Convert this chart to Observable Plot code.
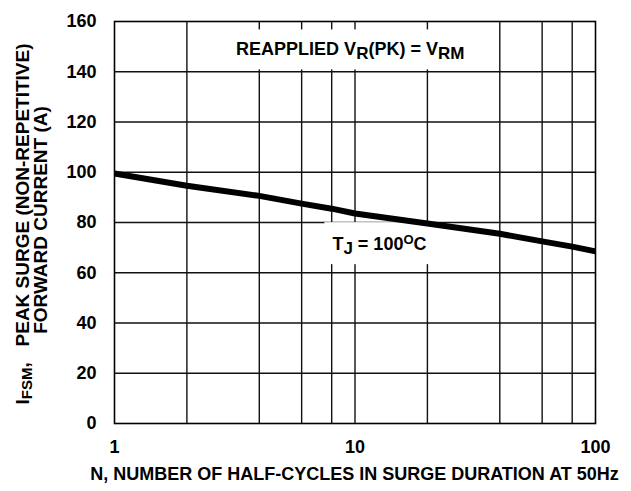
<!DOCTYPE html>
<html><head><meta charset="utf-8">
<script src="https://cdn.jsdelivr.net/npm/d3@7"></script>
<script src="https://cdn.jsdelivr.net/npm/@observablehq/plot@0.6"></script>
<style>
html,body{margin:0;padding:0;background:#fff;}
#chart svg{display:block;}
</style></head><body><div id="chart"></div>
<script>
// ---- data ----
const halfCycles   = [1, 2, 4, 6, 8, 10, 20, 40, 60, 80, 100];
const surgeCurrent = [99.5, 94.6, 90.6, 87.5, 85.5, 83.6, 79.6, 75.5, 72.5, 70.4, 68.5];
const xTicks = [1, 10, 100];
const xGrid  = [2, 4, 6, 8, 10, 20, 40, 60, 80];
const yTicks = [0, 20, 40, 60, 80, 100, 120, 140, 160];
const yGrid  = [20, 40, 60, 80, 100, 120, 140];
const annotationX = [9.6, 12.7];
const annotationY = [146.3, 68.8];
const annotationText = [
  [["REAPPLIED V", ""], ["R", "sub"], ["(PK) = V", ""], ["RM", "sub"]],
  [["T", ""], ["J", "sub"], [" = 100", ""], ["O", "sup"], ["C", ""]]
];
const xTitle = "N, NUMBER OF HALF-CYCLES IN SURGE DURATION AT 50Hz";
const yTitle1 = [["I", ""], ["FSM", "small"], [",   PEAK SURGE (NON-REPETITIVE)", ""]];
const yTitle2 = "FORWARD CURRENT (A)";

const data = halfCycles.map((n, i) => ({n, a: surgeCurrent[i]}));
const W = 631, H = 491, mL = 114, mR = 36, mT = 21, mB = 68;
const FONT = "'Liberation Sans', Arial, Helvetica, sans-serif";

const plot = Plot.plot({
  width: W, height: H,
  marginLeft: mL, marginRight: mR, marginTop: mT, marginBottom: mB,
  style: {fontFamily: FONT, fontSize: "18px", fontWeight: "bold", color: "#000", background: "#fff", overflow: "visible"},
  x: {type: "log", domain: [1, 100], ticks: xTicks, tickFormat: d => String(d), tickSize: 0, tickPadding: 17, label: null},
  y: {domain: [0, 160], ticks: yTicks, tickFormat: d => String(d), tickSize: 0, tickPadding: 18, label: null},
  marks: [
    Plot.ruleX(xGrid, {stroke: "#111", strokeWidth: 1.4}),
    Plot.ruleY(yGrid, {stroke: "#111", strokeWidth: 1.4}),
    Plot.frame({stroke: "#000", strokeWidth: 1.6}),
    Plot.line(data, {x: "n", y: "a", stroke: "#000", strokeWidth: 6, strokeLinecap: "butt"})
  ]
});
document.getElementById("chart").append(plot);

const sx = plot.scale("x"), sy = plot.scale("y");

function rich(text, parts, opts) {
  let shift = 0;
  parts.forEach(([s, kind]) => {
    let target = 0, size = null;
    if (kind === "sub") { target = opts.sub; size = opts.subSize; }
    else if (kind === "sup") { target = -opts.sup; size = opts.supSize; }
    else if (kind === "small") { target = opts.small; size = opts.smallSize; }
    const t = text.append("tspan").attr("dy", target - shift).text(s);
    if (size) t.attr("font-size", size);
    shift = target;
  });
}

const svg = d3.select(plot);
const lineG = plot.querySelector('g[aria-label="line"]');
const annG = svg.append("g").node();
plot.insertBefore(annG, lineG);
const ann = d3.select(annG)
  .attr("font-family", FONT).attr("font-size", 18).attr("font-weight", "bold").attr("fill", "#000");

annotationText.forEach((parts, i) => {
  const px = sx.apply(annotationX[i]), py = sy.apply(annotationY[i]);
  const g = ann.append("g");
  const t = g.append("text").attr("x", px).attr("y", py).attr("text-anchor", "middle")
    .style("white-space", "pre");
  rich(t, parts, {sub: 4, subSize: 17, sup: 6, supSize: 13});
  const b = t.node().getBBox();
  g.insert("rect", "text")
    .attr("x", b.x - 8).attr("y", b.y - 10)
    .attr("width", b.width + 16).attr("height", b.height + 16)
    .attr("fill", "#fff");
});

// axis titles
const titles = svg.append("g")
  .attr("font-family", FONT).attr("font-size", 18).attr("font-weight", "bold").attr("fill", "#000");
titles.append("text")
  .attr("x", mL + (W - mL - mR) / 2).attr("y", 480)
  .attr("text-anchor", "middle").text(xTitle);
const t1 = titles.append("text")
  .attr("transform", "translate(29,224) rotate(-90)")
  .attr("font-size", 19)
  .attr("text-anchor", "middle").style("white-space", "pre");
rich(t1, yTitle1, {small: 3, smallSize: 15});
titles.append("text")
  .attr("transform", "translate(47,220) rotate(-90)")
  .attr("font-size", 19)
  .attr("text-anchor", "middle").text(yTitle2);
</script>
</body></html>
